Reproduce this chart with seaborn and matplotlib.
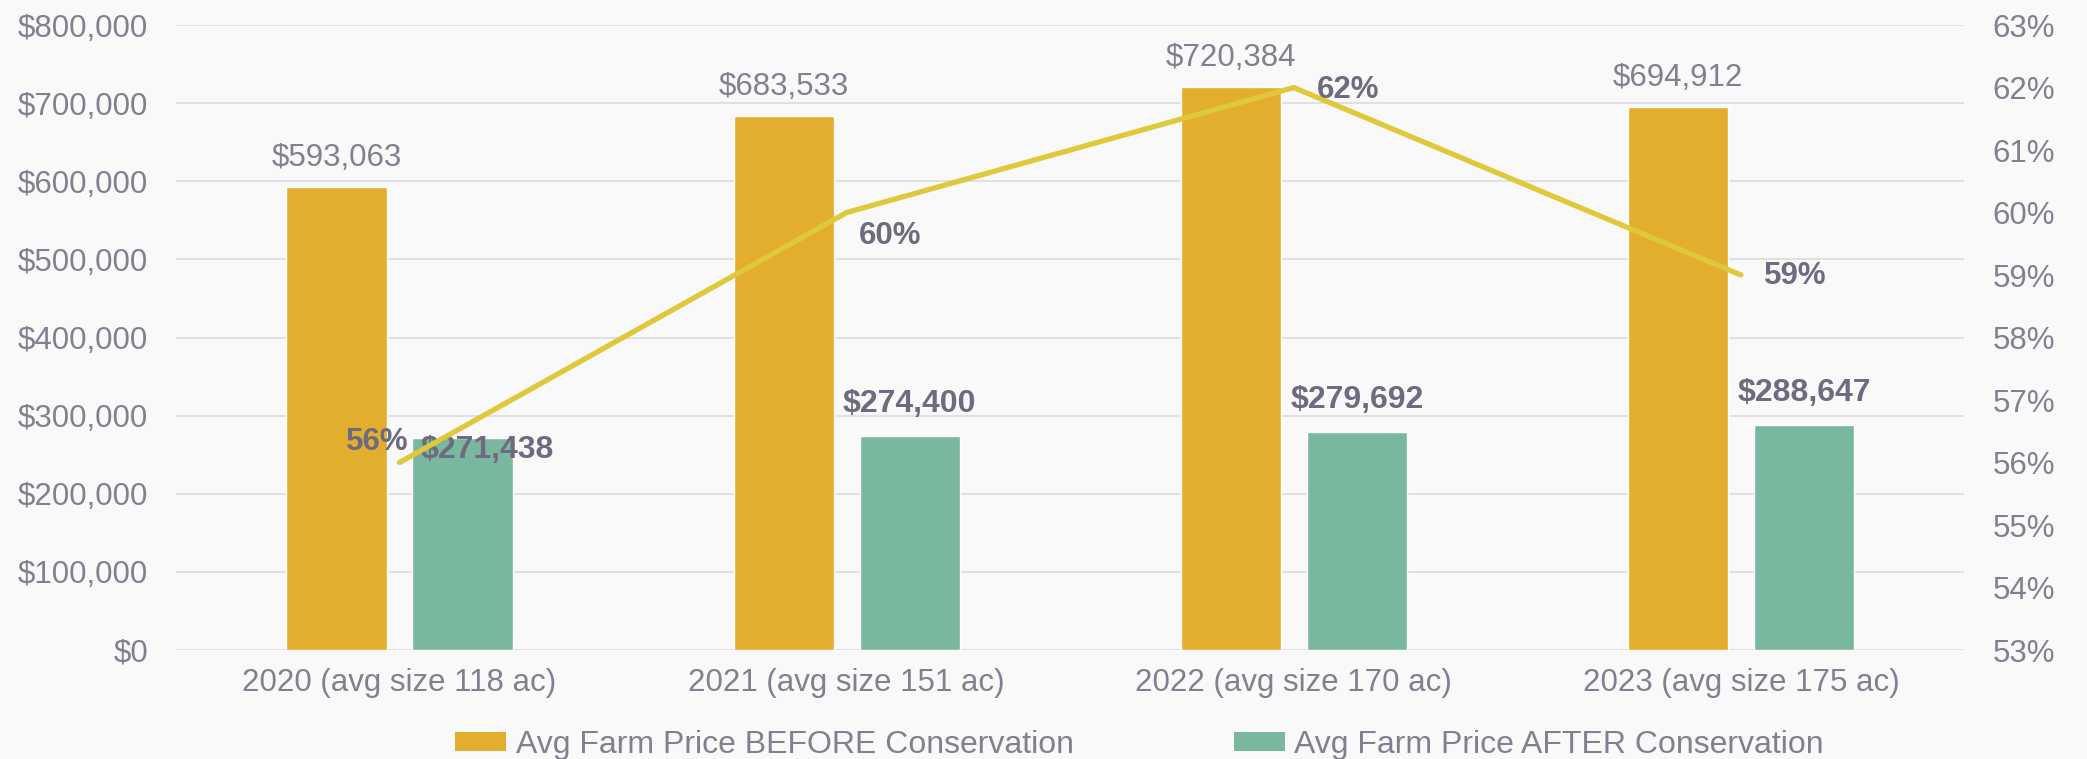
import numpy as np
import pandas as pd
import matplotlib
matplotlib.use("Agg")
import matplotlib.pyplot as plt
import seaborn as sns
from matplotlib.ticker import FuncFormatter, MultipleLocator
from matplotlib.patches import Patch

# ---- data ----
categories = ["2020 (avg size 118 ac)", "2021 (avg size 151 ac)",
              "2022 (avg size 170 ac)", "2023 (avg size 175 ac)"]
before_prices = [593063, 683533, 720384, 694912]
after_prices = [271438, 274400, 279692, 288647]
pct_values = [56, 60, 62, 59]
series_names = ["Avg Farm Price BEFORE Conservation", "Avg Farm Price AFTER Conservation"]

# ---- styles ----
BG = "#F9F9F9"
GOLD = "#E3AE2D"
GREEN = "#7AB79F"
LINE = "#E0C83B"
TXT = "#808090"
TXT_BOLD = "#6E6A80"
GRID = "#DEDEE0"
FS = 22.5

sns.set_theme(style="white")
plt.rcParams["font.family"] = ["Liberation Sans", "DejaVu Sans"]

df = pd.DataFrame({
    "category": categories * 2,
    "value": before_prices + after_prices,
    "series": [series_names[0]] * len(categories) + [series_names[1]] * len(categories),
})

fig = plt.figure(figsize=(20.87, 7.59), dpi=100, facecolor=BG)
ax = fig.add_axes([0.0843, 0.1436, 0.857, 0.8234])
ax.set_facecolor(BG)

sns.barplot(data=df, x="category", y="value", hue="series", order=categories,
            hue_order=series_names, palette=[GOLD, GREEN], width=0.564, gap=0.206,
            saturation=1, ax=ax, legend=False, errorbar=None)

ax.set_ylim(0, 800000)
ax.set_xlim(-0.5, len(categories) - 0.5)
ax.yaxis.set_major_locator(MultipleLocator(100000))
ax.yaxis.set_major_formatter(FuncFormatter(lambda v, p: f"${v:,.0f}"))
ax.grid(axis="y", color=GRID, linewidth=1.3)
ax.set_axisbelow(True)
ax.set_xlabel("")
ax.set_ylabel("")
for s in ax.spines.values():
    s.set_visible(False)
ax.tick_params(axis="y", length=0, pad=20, labelsize=FS, labelcolor=TXT)
ax.tick_params(axis="x", length=0, pad=13, labelsize=FS, labelcolor=TXT)

# bar labels
before_off = [(0, 21)] * 4
after_off = [(18, -9), (0, 23), (0, 23), (0, 23)]
for bars, vals, offs, weight, col, fs in [
        (ax.containers[0], before_prices, before_off, "normal", TXT, FS),
        (ax.containers[1], after_prices, after_off, "bold", TXT_BOLD, 23)]:
    for bar, v, off in zip(bars, vals, offs):
        ax.annotate(f"${v:,.0f}", xy=(bar.get_x() + bar.get_width() / 2, bar.get_height()),
                    xytext=off, textcoords="offset points", ha="center", va="center",
                    fontsize=fs, color=col, fontweight=weight, zorder=5)

# line on secondary axis
ax2 = ax.twinx()
xpos = np.arange(len(categories))
sns.lineplot(x=xpos, y=pct_values, ax=ax2, color=LINE, linewidth=3.8, sort=False,
             solid_capstyle="round", solid_joinstyle="miter")
ax2.set_ylim(53, 63)
ax2.yaxis.set_major_locator(MultipleLocator(1))
ax2.yaxis.set_major_formatter(FuncFormatter(lambda v, p: f"{v:.0f}%"))
for s in ax2.spines.values():
    s.set_visible(False)
ax2.tick_params(axis="y", length=0, pad=20, labelsize=FS, labelcolor=TXT)
ax2.set_ylabel("")

pct_off = [(-16, 15), (31, -17), (39, -2), (39, -1)]
for x, v, off in zip(xpos, pct_values, pct_off):
    ax2.annotate(f"{v}%", xy=(x, v), xytext=off, textcoords="offset points",
                 ha="center", va="center", fontsize=FS, color=TXT_BOLD, fontweight="bold")

# legend
handles = [Patch(facecolor=GOLD, edgecolor="none"), Patch(facecolor=GREEN, edgecolor="none")]
leg = fig.legend(handles, series_names, loc="center", bbox_to_anchor=(0.546, 0.019), ncol=2,
                 frameon=False, fontsize=23, labelcolor=TXT, handlelength=1.6,
                 handleheight=0.52, handletextpad=0.3, columnspacing=5.0, borderpad=0)

fig.savefig("out.png", dpi=100, facecolor=BG)
